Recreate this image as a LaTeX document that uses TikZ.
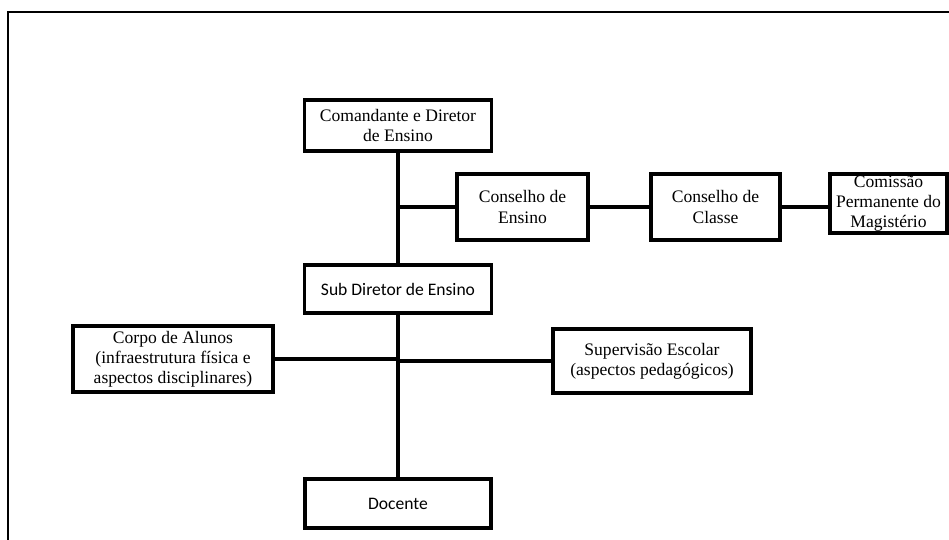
\documentclass[tikz,border=0pt]{standalone}
\usepackage{fontspec}
\setmainfont{Liberation Serif}
\newfontfamily\calibrifont{Carlito}
\usetikzlibrary{positioning}
\tikzset{
  chart/.style={x=0.02cm,y=-0.02cm},
  unit/.style={draw,line width=2.1pt,align=center,inner xsep=2pt,inner ysep=1pt,
    font=\fontsize{10}{11.5}\selectfont},
  calunit/.style={unit,font=\calibrifont\fontsize{10}{12}\selectfont},
  link/.style={line width=2.1pt},
  frame/.style={line width=1.2pt},
}

\begin{document}
\begin{tikzpicture}[chart]
  \useasboundingbox (0,0) rectangle (949,540);
  \draw[frame] (8,540) -- (8,12) -- (949,12);

  \node[unit,minimum width=3.74cm,minimum height=1.02cm] (cmd) at (398,125.5)
    {Comandante e Diretor\\de Ensino};
  \node[unit,minimum width=2.62cm,minimum height=1.32cm] (ensino) at (522.5,207)
    {Conselho de\\Ensino};
  \node[unit,minimum width=2.58cm,minimum height=1.32cm] (classe) at (715.5,207)
    {Conselho de\\Classe};
  \node[unit,minimum width=2.34cm,minimum height=1.18cm,inner ysep=0pt] (cpm) at (888.5,203.5)
    {Comissão\\Permanente do\\Magistério};
  \node[calunit,minimum width=3.74cm,minimum height=0.96cm] (sub) at (398,289)
    {Sub Diretor de Ensino};
  \node[unit,minimum width=4cm,minimum height=1.32cm] (alunos) at (173,359)
    {Corpo de Alunos\\(infraestrutura física e\\aspectos disciplinares)};
  \node[unit,minimum width=3.96cm,minimum height=1.28cm] (sup) at (652,361)
    {Supervisão Escolar\\(aspectos pedagógicos)};
  \node[calunit,minimum width=3.72cm,minimum height=0.98cm] (doc) at (398,503.5)
    {Docente};

  \draw[link] (cmd.south) -- (sub.north);
  \draw[link] (sub.south) -- (doc.north);
  \draw[link] (ensino.west) -- (ensino.west -| cmd.south);
  \draw[link] (ensino.east) -- (classe.west);
  \draw[link] (classe.east) -- (classe.east -| cpm.west);
  \draw[link] (alunos.east) -- (alunos.east -| sub.south);
  \draw[link] (sup.west) -- (sup.west -| sub.south);
\end{tikzpicture}
\end{document}
